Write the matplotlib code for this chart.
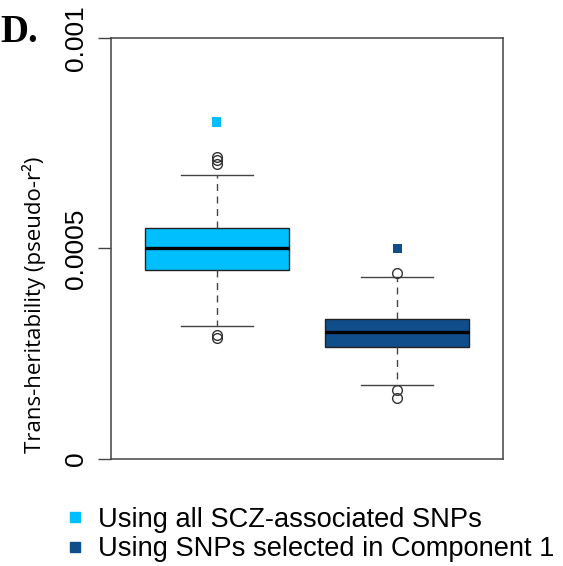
import numpy as np
import matplotlib
matplotlib.use("Agg")
import matplotlib.pyplot as plt
from matplotlib.lines import Line2D

# summary statistics (pseudo-r2)
groups = ["Using all SCZ-associated SNPs", "Using SNPs selected in Component 1"]
colors = ["#00BFFF", "#104E8B"]
q1 = [0.000449, 0.000267]
med = [0.000502, 0.000301]
q3 = [0.000548, 0.000332]
whislo = [0.000316, 0.000176]
whishi = [0.000674, 0.000433]
fliers = [[0.000717, 0.000709, 0.000701, 0.000294, 0.000287],
          [0.000441, 0.000165, 0.000144]]
observed = [0.0008, 0.0005]

yticks = [0, 0.0005, 0.001]
yticklabels = ["0", "0.0005", "0.001"]

stats = []
for i in range(len(groups)):
    stats.append(dict(med=med[i], q1=q1[i], q3=q3[i], whislo=whislo[i],
                      whishi=whishi[i], fliers=fliers[i], label=groups[i]))

fig = plt.figure(figsize=(5.63, 5.66), dpi=100)
ax = fig.add_axes([0.1972, 0.189, 0.6962, 0.7444])

pos = np.arange(1, len(groups) + 1)
bp = ax.bxp(stats, positions=pos, widths=0.8, patch_artist=True,
            showcaps=True,
            boxprops=dict(edgecolor="#222222", linewidth=1.0),
            medianprops=dict(color="black", linewidth=2.4),
            whiskerprops=dict(color="#444444", linewidth=1.0, linestyle=(0, (5, 4))),
            capprops=dict(color="#444444", linewidth=1.0),
            flierprops=dict(marker="o", markerfacecolor="none",
                            markeredgecolor="#333333", markersize=7, markeredgewidth=1.0))
for patch, c in zip(bp["boxes"], colors):
    patch.set_facecolor(c)
for cap in bp["caps"]:
    x = cap.get_xdata()
    m = x.mean()
    cap.set_xdata([m - 0.2, m + 0.2])

ax.scatter(pos, observed, marker="s", s=45, c=colors, zorder=5, linewidths=0)

ax.set_xlim(0.414, 2.586)
ax.set_ylim(0, 0.001)
ax.set_xticks([])
ax.set_yticks(yticks)
ax.set_yticklabels(yticklabels, rotation=90, va="center",
                   family="Liberation Sans", fontsize=19)
ax.tick_params(axis="y", length=9.5, width=1.0, color="#444444", pad=7)
for s in ax.spines.values():
    s.set_color("#444444")
    s.set_linewidth(1.1)

fig.text(0.061, 0.461, "Trans-heritability (pseudo-r²)", rotation=90,
         ha="center", va="center", family="Open Sans", fontsize=16)
fig.text(0.0, 0.943, "D.", family="Liberation Serif", fontweight="bold",
         fontsize=28, ha="left", va="center")

handles = [Line2D([], [], marker="s", linestyle="none", color=c, markersize=7)
           for c in colors]
fig.legend(handles, groups, loc="upper left", bbox_to_anchor=(0.109, 0.105),
           frameon=False, prop=dict(family="Liberation Sans", size=19.6),
           handletextpad=0.35, labelspacing=0.14, handlelength=1.0,
           borderaxespad=0, borderpad=0)

fig.savefig("out.png", dpi=100)
